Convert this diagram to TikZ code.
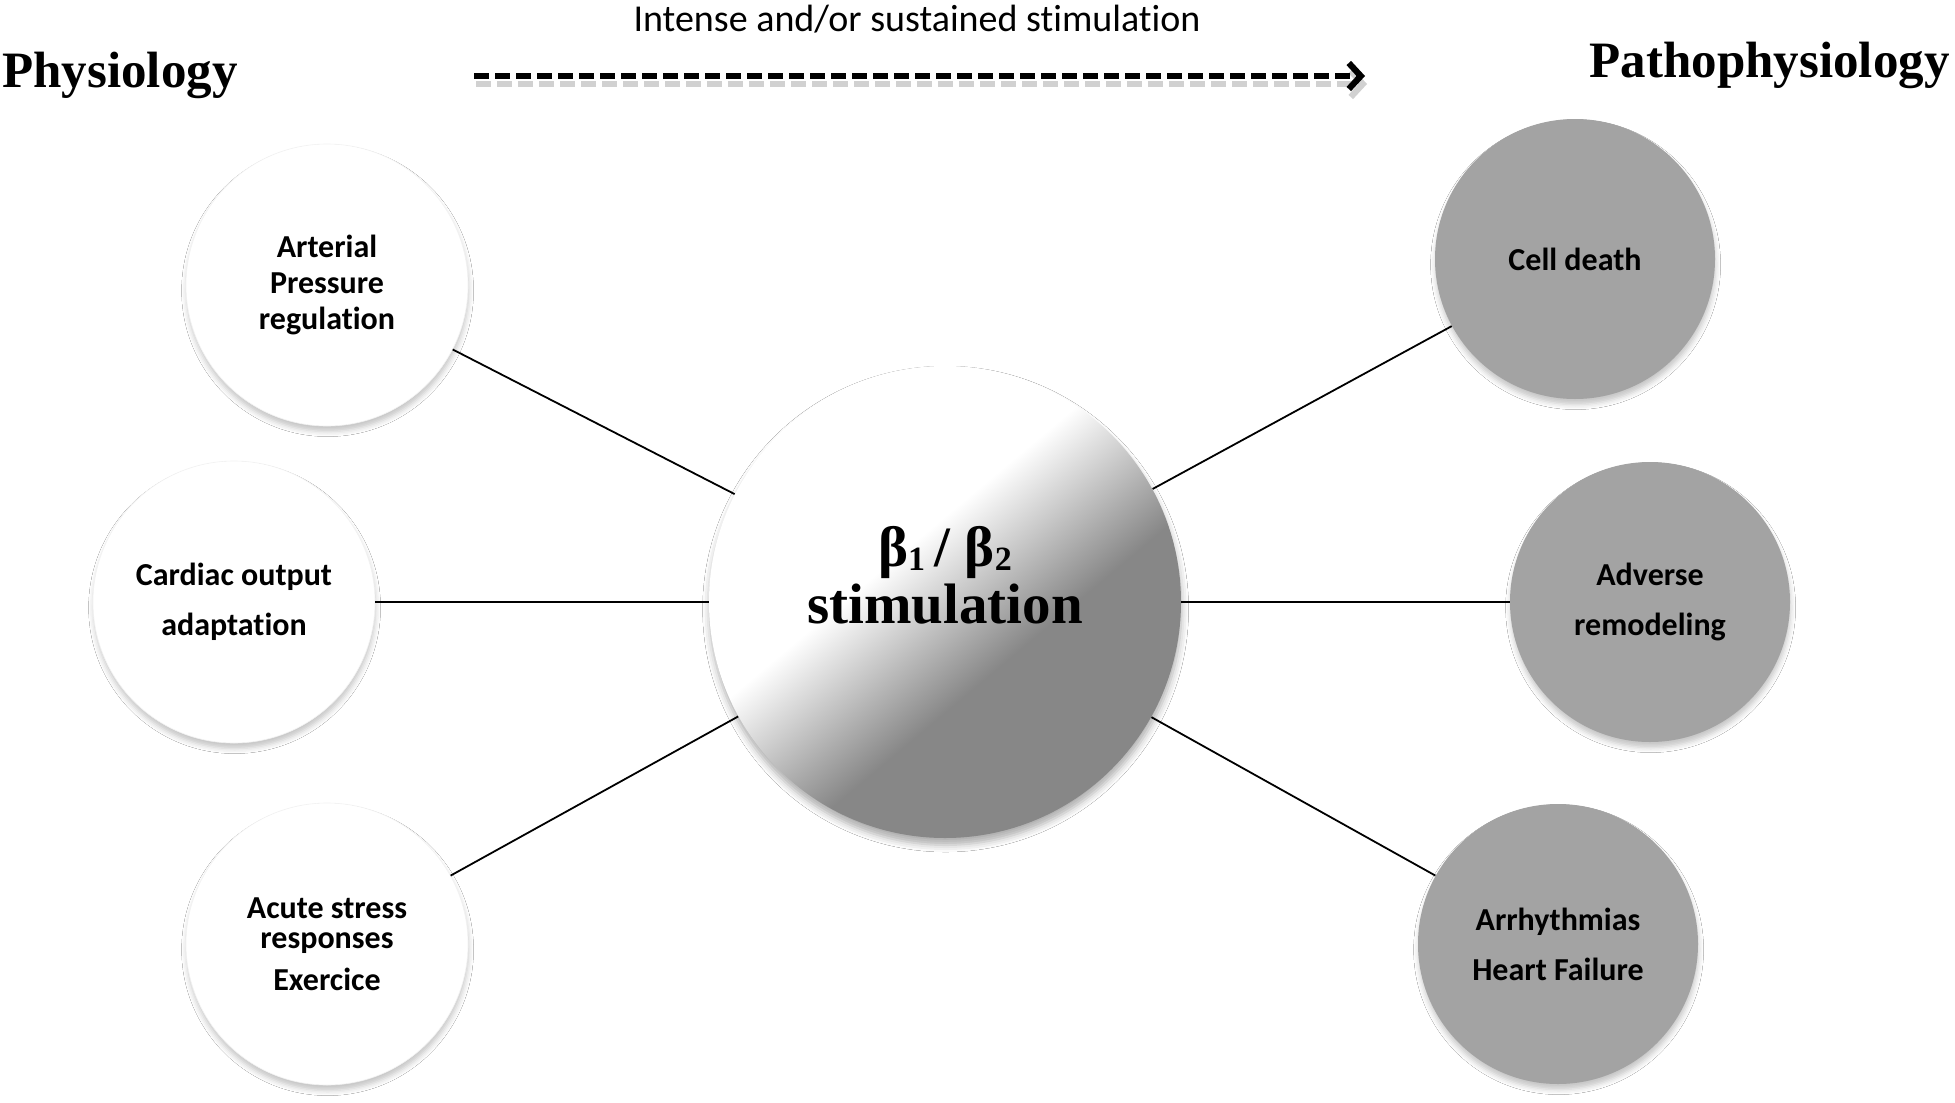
\documentclass[tikz,border=0pt]{standalone}
\usepackage{fontspec}
\setmainfont{Carlito}[Ligatures=NoCommon]
\newfontfamily\serifb{Liberation Serif}
\usetikzlibrary{shadows.blur,arrows.meta}
\definecolor{pgrey}{RGB}{163,163,163}
\definecolor{cgrey}{RGB}{135,135,135}
\pgfdeclarehorizontalshading{betashade}{100bp}{color(0bp)=(white); color(43bp)=(white); color(59bp)=(cgrey); color(100bp)=(cgrey)}
\begin{document}
\begin{tikzpicture}[x=0.5pt,y=-0.5pt,
  softshadow/.style={blur shadow={shadow xshift=0.3pt, shadow yshift=-2.8pt, shadow blur radius=2.5pt, shadow opacity=22}},
  physio/.style={circle, fill=white, draw=black!5, line width=0.3pt, minimum size=141pt, inner sep=0pt, align=center, softshadow},
  patho/.style={circle, fill=pgrey, minimum size=140pt, inner sep=0pt, align=center, softshadow},
  ctext/.style={font=\bfseries\fontsize{16}{25}\selectfont},
  link/.style={line width=0.9pt, black},
  bigarrow/.style={line width=3.1pt, dash pattern=on 7.5pt off 3pt, -{Straight Barb[length=6pt,width=13pt]}}]
\fill[white] (0,0) rectangle (1955,1103);
\useasboundingbox (0,0) rectangle (1955,1103);

% top labels
\node (top) at (917,19) {\fontsize{19}{19}\selectfont Intense and/or sustained stimulation};
\node[anchor=west, inner sep=0pt] (phys) at (2,75) {\serifb\bfseries\fontsize{25.5}{26}\selectfont Physiology};
\node[anchor=east, inner sep=0pt] (path) at (1950,65) {\serifb\bfseries\fontsize{25.5}{26}\selectfont Pathophysiology};

% arrow
\coordinate (as) at (474,76);
\coordinate (ae) at (1365,76);
\coordinate (ass) at (476,84);
\coordinate (aes) at (1367,84);
\draw[bigarrow, black!18] (ass) -- (aes);
\draw[bigarrow] (as) -- (ae);

% center circle
\node[circle, minimum size=236pt, inner sep=0pt, shading=betashade, shading angle=-50,
      blur shadow={shadow xshift=0.3pt, shadow yshift=-3.5pt, shadow blur radius=3.5pt, shadow opacity=32}] (beta) at (945,602) {};
\node (btext) at (945,575) [align=center, font=\serifb\bfseries\fontsize{28.5}{28.5}\selectfont]
  {β\raisebox{-2pt}{\fontsize{17}{17}\selectfont 1}\,/ β\raisebox{-2pt}{\fontsize{17}{17}\selectfont 2}\\stimulation};

% physiology circles
\node[physio, font=\bfseries\fontsize{16}{18}\selectfont] (art) at (327,285) {Arterial\\Pressure\\regulation};
\node[physio, ctext] (card) at (234,602) {Cardiac output\\adaptation};
\node[physio, font=\bfseries\fontsize{16}{15}\selectfont] (acute) at (327,944) {Acute stress\\responses\\[6pt]Exercice};

% pathophysiology circles
\node[patho, ctext] (cell) at (1575,259) {Cell death};
\node[patho, ctext] (adv) at (1650,602) {Adverse\\remodeling};
\node[patho, ctext] (arr) at (1558,944) {Arrhythmias\\Heart Failure};

% connectors
\draw[link] (art) -- (beta);
\draw[link] (card) -- (beta);
\draw[link] (acute) -- (beta);
\draw[link] (beta) -- (cell);
\draw[link] (beta) -- (adv);
\draw[link] (beta) -- (arr);
\end{tikzpicture}
\end{document}
